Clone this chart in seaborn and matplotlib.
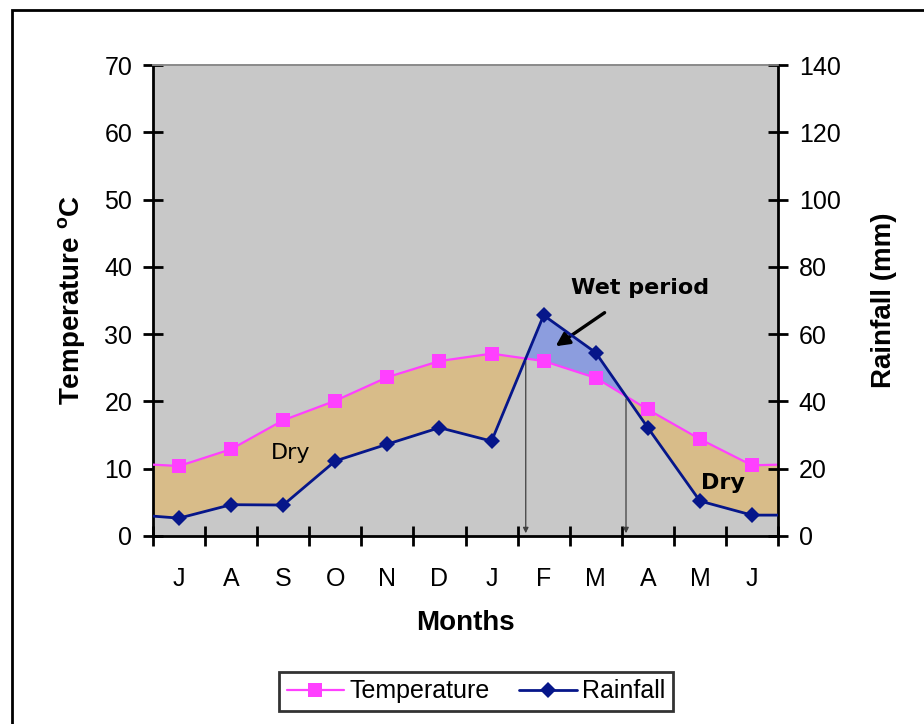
import numpy as np
import pandas as pd
import matplotlib
matplotlib.use('Agg')
import matplotlib.pyplot as plt
import seaborn as sns
from matplotlib.lines import Line2D
from matplotlib.patches import Rectangle

# ── DATA ───────────────────────────────────────────────────────
months      = ['J', 'A', 'S', 'O', 'N', 'D', 'J', 'F', 'M', 'A', 'M', 'J']
temperature = [10.4, 12.9, 17.2, 20.1, 23.6, 26.0, 27.1, 26.0, 23.5, 18.8, 14.4, 10.5]
rainfall    = [5.3, 9.3, 9.2, 22.3, 27.3, 32.2, 28.2, 65.6, 54.5, 32.2, 10.4, 6.2]
# values where the lines meet the left / right edges of the plot
temp_edges  = [10.6, 10.6]
rain_edges  = [5.9, 6.2]

temp_ticks = list(range(0, 71, 10))
rain_ticks = list(range(0, 141, 20))

# ── COLOURS ────────────────────────────────────────────────────
c_temp = '#FF40FF'
c_rain = '#06168A'
c_dry  = '#D8BC89'
c_wet  = '#8C9DDE'
c_bg   = '#C8C8C8'

sns.set_style('white')
plt.rcParams['font.family'] = ['Liberation Sans', 'DejaVu Sans']
plt.rcParams.update({'text.color': 'black', 'axes.labelcolor': 'black',
                     'xtick.color': 'black', 'ytick.color': 'black'})

n = len(months)
x = np.arange(n)
x_full = np.concatenate([[-0.5], x, [n - 0.5]])
temp_full = np.array([temp_edges[0]] + temperature + [temp_edges[1]])
rain_full = np.array([rain_edges[0]] + rainfall + [rain_edges[1]])
rain_half = rain_full / 2.0   # rainfall in temperature units (140 mm <-> 70 C)

df = pd.DataFrame({'x': x_full, 'temp': temp_full, 'rain': rain_full})

fig = plt.figure(figsize=(9.24, 7.24), dpi=100)
ax = fig.add_axes([0.1656, 0.2597, 0.6764, 0.6505])
ax2 = ax.twinx()
ax.set_facecolor(c_bg)

# dry / wet shading
ax.fill_between(x_full, rain_half, temp_full, where=temp_full >= rain_half,
                interpolate=True, color=c_dry, lw=0, zorder=1)
ax.fill_between(x_full, rain_half, temp_full, where=temp_full < rain_half,
                interpolate=True, color=c_wet, lw=0, zorder=1)

marks = list(range(1, n + 1))
sns.lineplot(data=df, x='x', y='temp', ax=ax, color=c_temp, lw=1.6,
             marker='s', markersize=10, markeredgewidth=0, markevery=marks,
             sort=False, zorder=3)
sns.lineplot(data=df, x='x', y='rain', ax=ax2, color=c_rain, lw=2,
             marker='D', markersize=8, markeredgewidth=0, markevery=marks,
             sort=False, zorder=3)

# vertical arrows where the two curves cross
diff = rain_half - temp_full
for i in range(len(x_full) - 1):
    if diff[i] * diff[i + 1] < 0:
        t = diff[i] / (diff[i] - diff[i + 1])
        xc = x_full[i] + t * (x_full[i + 1] - x_full[i])
        yc = temp_full[i] + t * (temp_full[i + 1] - temp_full[i])
        ax.annotate('', xy=(xc, 0), xytext=(xc, yc),
                    arrowprops=dict(arrowstyle='-|>', color='#404040', lw=0.9,
                                    mutation_scale=8), zorder=4)

# labels in plot
ax.text(2.15, 12.4, 'Dry', fontsize=16, family='DejaVu Sans', ha='center', va='center')
ax.text(10.45, 7.8, 'Dry', fontsize=16, family='DejaVu Sans', fontweight='bold',
        ha='center', va='center')
ax.annotate('Wet period', xy=(7.23, 28.2), xytext=(8.85, 36.8),
            fontsize=16, family='DejaVu Sans', fontweight='bold',
            ha='center', va='center',
            arrowprops=dict(arrowstyle='-|>', color='black', lw=2.4,
                            mutation_scale=20, shrinkA=14, shrinkB=0))

# axes
ax.set_xlim(-0.5, n - 0.5)
ax.set_ylim(0, 70)
ax2.set_ylim(0, 140)
ax.set_xticks(x)
ax.set_xticklabels(months)
ax.set_xticks(np.arange(-0.5, n, 1.0), minor=True)
ax.set_yticks(temp_ticks)
ax2.set_yticks(rain_ticks)

ax.tick_params(axis='x', which='major', length=0, pad=22, labelsize=18)
ax.tick_params(axis='x', which='minor', direction='inout', length=14, width=2,
               color='black', bottom=True)
ax.tick_params(axis='y', direction='inout', length=14, width=2, labelsize=18,
               pad=8, left=True, color='black')
ax2.tick_params(axis='y', direction='inout', length=14, width=2, labelsize=18,
                pad=8, right=True, color='black')

for a in (ax, ax2):
    for s in ('left', 'bottom', 'right'):
        a.spines[s].set_color('black')
        a.spines[s].set_linewidth(2)
    a.spines['top'].set_color('#8a8a8a')
    a.spines['top'].set_linewidth(1.2)
ax.spines['right'].set_visible(False)
ax2.spines['left'].set_visible(False)
ax2.spines['bottom'].set_visible(False)

ax.set_xlabel('Months', fontsize=20, fontweight='bold', labelpad=14)
ax.set_ylabel('Temperature $^{\\mathregular{o}}$C', fontsize=20, fontweight='bold',
              labelpad=12)
ax2.set_ylabel('Rainfall (mm)', fontsize=20, fontweight='bold', labelpad=22)

# legend
handles = [
    Line2D([], [], color=c_temp, lw=1.6, marker='s', markersize=10,
           markeredgewidth=0, label='Temperature'),
    Line2D([], [], color=c_rain, lw=2, marker='D', markersize=8,
           markeredgewidth=0, label='Rainfall'),
]
leg = fig.legend(handles=handles, loc='center', bbox_to_anchor=(0.515, 0.045),
                 ncol=2, fontsize=18, frameon=True, fancybox=False,
                 handlelength=2.3, handletextpad=0.2, columnspacing=1.2,
                 borderpad=0.3)
leg.get_frame().set_edgecolor('black')
leg.get_frame().set_linewidth(2)

# outer chart border
fig.patches.append(Rectangle((12 / 924, -0.1), 1.2, 1 - 10 / 724 + 0.1,
                             transform=fig.transFigure, fill=False,
                             edgecolor='black', lw=2, zorder=0))

fig.savefig('out.png', dpi=100)
